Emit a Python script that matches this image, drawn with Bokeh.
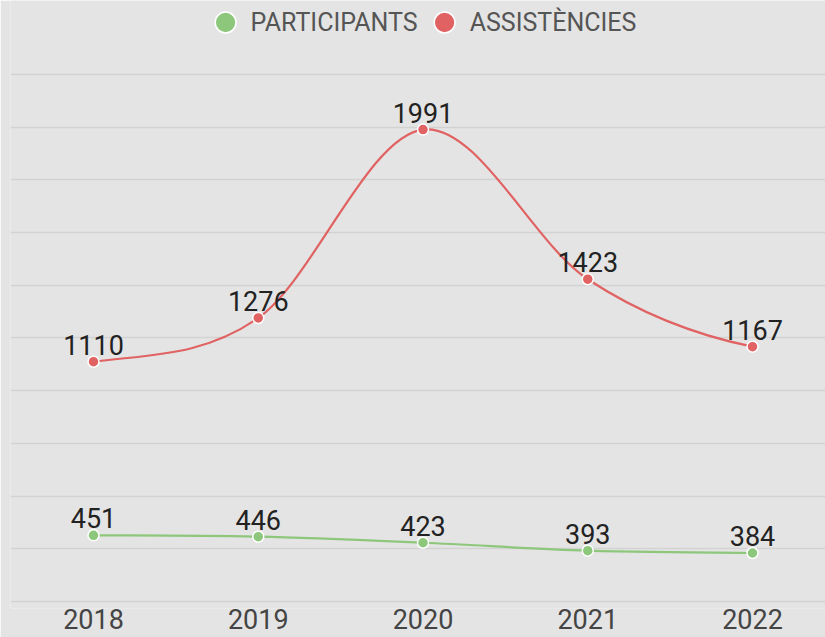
import numpy as np
from bokeh.plotting import figure
from bokeh.models import Range1d, FixedTicker, Legend, LegendItem
from bokeh.core.properties import value
from bokeh.embed import file_html
from bokeh.resources import INLINE

# ---- data ----
years = [2018, 2019, 2020, 2021, 2022]
participants = [451, 446, 423, 393, 384]
assistencies = [1110, 1276, 1991, 1423, 1167]
series_names = ["PARTICIPANTS", "ASSISTÈNCIES"]
grid_ticks = [200, 400, 600, 800, 1000, 1200, 1400, 1600, 1800, 2000, 2200]

GREEN = "#8dc77b"
RED = "#e06262"
BG = "#e4e4e4"
GRID = "#d2d2d2"
FONT = "Roboto"


def smooth_segments(xs, ys):
    """Cubic Bezier control points (Catmull-Rom tangents) through the data points."""
    xs = np.asarray(xs, float)
    ys = np.asarray(ys, float)
    n = len(xs)
    h = xs[1] - xs[0]
    m = np.empty(n)
    for i in range(n):
        lo, hi = max(i - 1, 0), min(i + 1, n - 1)
        m[i] = (ys[hi] - ys[lo]) / (2 * h)
    return dict(
        x0=xs[:-1], y0=ys[:-1], x1=xs[1:], y1=ys[1:],
        cx0=xs[:-1] + h / 3, cy0=ys[:-1] + m[:-1] * h / 3,
        cx1=xs[1:] - h / 3, cy1=ys[1:] - m[1:] * h / 3,
    )


p = figure(
    width=825, height=637,
    x_range=Range1d(years[0] - 0.5038, years[-1] + 0.4431),
    y_range=Range1d(173.4, 2480.8),
    y_axis_location=None,
    output_backend="svg", toolbar_location=None,
    min_border_left=10, min_border_right=0, min_border_top=0, min_border_bottom=29,
    background_fill_color=BG, border_fill_color=BG, outline_line_color=None,
)

p.xgrid.visible = False
p.ygrid.ticker = FixedTicker(ticks=grid_ticks)
p.ygrid.grid_line_color = GRID
p.ygrid.grid_line_width = 1.6

ax = p.xaxis[0]
ax.ticker = FixedTicker(ticks=years)
ax.axis_line_color = None
ax.major_tick_line_color = None
ax.minor_tick_line_color = None
ax.major_tick_out = 0
ax.major_tick_in = 0
ax.major_label_standoff = 0
ax.major_label_text_font = FONT
ax.major_label_text_font_size = "27px"
ax.major_label_text_color = "#444444"

markers = []
for vals, color in [(participants, GREEN), (assistencies, RED)]:
    seg = smooth_segments(years, vals)
    p.bezier(line_color=color, line_width=2.2, **seg)
    r = p.scatter(years, vals, size=11, fill_color=color, line_color="white", line_width=1.5)
    markers.append(r)
    p.text(x=years, y=vals, text=[str(v) for v in vals],
           text_align="center", text_baseline="middle", y_offset=-17,
           text_font=value(FONT), text_font_size=value("27px"), text_color="#222222")

legend = Legend(
    items=[LegendItem(label=series_names[0], renderers=[markers[0]]),
           LegendItem(label=series_names[1], renderers=[markers[1]])],
    location="top_center", orientation="horizontal",
    glyph_width=52, glyph_height=52, label_standoff=0, spacing=0,
    padding=0, margin=-4,
    background_fill_alpha=0, border_line_color=None,
    label_text_font=FONT, label_text_font_size="25px", label_text_color="#555555",
)
p.add_layout(legend)

open("out.html", "w").write(file_html(p, INLINE, title="Participants i assistències"))
